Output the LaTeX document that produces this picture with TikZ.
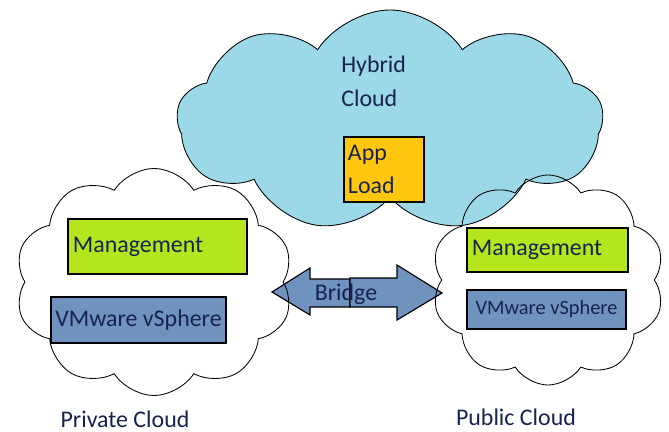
\documentclass[tikz,border=0pt]{standalone}
\usepackage{fontspec}
\setmainfont{Carlito}
\usetikzlibrary{shapes.symbols}
\definecolor{skycloud}{HTML}{9BD8E8}
\definecolor{limebox}{HTML}{B5E61D}
\definecolor{steelbox}{HTML}{7092BE}
\definecolor{ambox}{HTML}{FFC60E}
\definecolor{inktext}{HTML}{182250}
\begin{document}
\begin{tikzpicture}[x=0.025cm,y=-0.025cm,
    cloudline/.style={cloud, cloud puffs=10, cloud puff arc=115, cloud ignores aspect,
                      draw, line width=0.6pt, inner sep=0pt},
    boxline/.style={draw, line width=0.8pt, inner sep=0pt, text=inktext},
    label/.style={text=inktext, font=\fontsize{17}{20}\selectfont, inner sep=0pt}]
\useasboundingbox (0,0) rectangle (669,432);
{\fontsize{17}{20}\selectfont

% Drawing cloud Hybrid
\node [cloudline, cloud puffs=9, fill=skycloud, minimum width=10.65cm, minimum height=5.55cm] (hybrid) at (390,121) {};
\node [label, anchor=west, align=left, font=\fontsize{17}{24}\selectfont] (hybridtxt) at (341,81) {Hybrid\\Cloud};

% Drawing box App Load
\node [boxline, fill=ambox, minimum width=2cm, minimum height=1.625cm, text width=1.8cm,
       align=left, inner xsep=0.1cm, font=\fontsize{17}{23}\selectfont] (appload) at (384,169.5) {App\\Load};

% Drawing arrows Bridge
\coordinate (lefttip) at (272,292);
\coordinate (righttip) at (442,293);
\draw [line width=0.8pt, fill=steelbox] (350,279) -- (310,279) -- (310,268) -- (lefttip) -- (310,315) -- (310,307) -- (350,307) -- cycle;%
\draw [line width=0.8pt, fill=steelbox] (350,278) -- (397,278) -- (397,265) -- (righttip) -- (397,320) -- (397,307) -- (350,307) -- cycle;%
\node [label] (bridge) at (346,294) {Bridge};

% Drawing cloud Private
\node [cloudline, minimum width=6.95cm, minimum height=5.675cm] (private) at (154,282) {};

% Drawing cloud Public
\node [cloudline, minimum width=5.825cm, minimum height=5.25cm] (public) at (548,280) {};

% Drawing boxes of Private
\node [boxline, fill=limebox, minimum width=4.475cm, minimum height=1.375cm, text width=4.225cm,
       align=left, inner xsep=0.125cm] (privmgmt) at (157.5,246.5) {Management};
\node [boxline, fill=steelbox, minimum width=4.375cm, minimum height=1.15cm] (privvm) at (138.5,320) {VMware vSphere};

% Drawing boxes of Public
\node [boxline, fill=limebox, minimum width=4.025cm, minimum height=1.1cm, text width=3.775cm,
       align=left, inner xsep=0.125cm] (pubmgmt) at (547.5,250) {Management};
\node [boxline, fill=steelbox, minimum width=3.975cm, minimum height=0.975cm,
       font=\fontsize{14.5}{16}\selectfont] (pubvm) at (546.5,309.5) {VMware vSphere};

% Labels under clouds
\node [label] (privlabel) at (125,419) {Private Cloud};
\node [label] (publabel) at (516,417) {Public Cloud};
}
\end{tikzpicture}
\end{document}
